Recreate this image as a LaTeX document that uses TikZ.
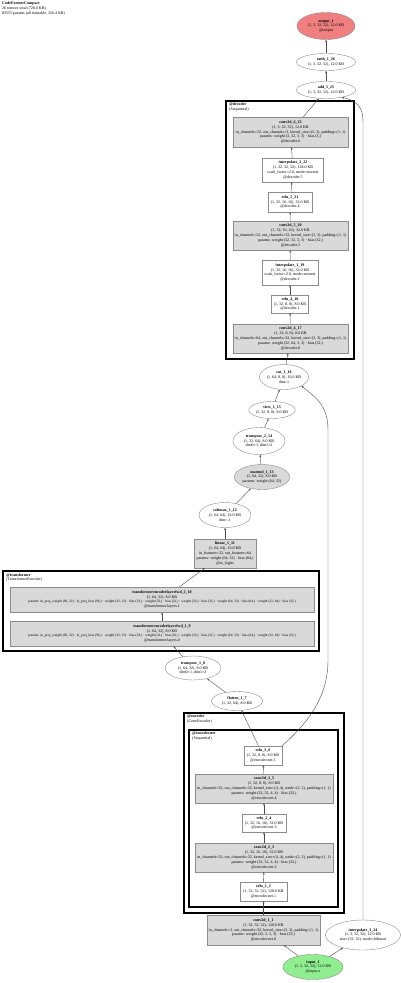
\documentclass[tikz,border=0pt]{standalone}
\usepackage{fontspec}
\setmainfont{Liberation Serif}
\usetikzlibrary{arrows.meta, shapes.geometric}
\definecolor{cmod}{HTML}{D9D9D9}
\definecolor{cline}{HTML}{8C8C8C}
\definecolor{cedge}{HTML}{4D4D4D}
\definecolor{cout}{HTML}{F08080}
\definecolor{cin}{HTML}{90EE90}
\tikzset{
  every picture/.style={x=1pt, y=-1pt},
  small4/.style={font=\fontsize{4}{4.8}\selectfont},
  fn/.style={draw=cline, fill=white, line width=0.4pt, align=center, inner sep=1pt, small4},
  mod/.style={fn, fill=cmod},
  ell/.style={fn, ellipse, inner sep=0.3pt},
  arrow/.style={-{Stealth[length=2.4pt, width=1.9pt]}, draw=cedge, line width=0.4pt},
  cluster/.style={draw=black, line width=1.3pt},
  clabel/.style={small4, align=left, anchor=north west, inner sep=0pt},
}
\newcommand{\plist}{params: in\_proj\_weight (96, 32) · in\_proj\_bias (96,) · weight (32, 32) · bias (32,) · weight (32,) · bias (32,) · weight (32,) · bias (32,) · weight (64, 32) · bias (64,) · weight (32, 64) · bias (32,)}

\begin{document}
\begin{tikzpicture}
  \useasboundingbox[fill=white] (0,0) rectangle (400,983);
  \node[clabel] (hdr) at (2,2) {\textbf{CodeFormerCompact}\\26 tensors total (728.0 KB)\\83555 params (all trainable, 326.4 KB)};

  \draw[cluster] (226,101) rectangle (354,359);
  \node[clabel] (decl) at (229,103) {\textbf{@decoder}\\(Sequential)};
  \draw[cluster] (3,571) rectangle (319,651);
  \node[clabel] (trfl) at (6,573) {\textbf{@transformer}\\(TransformerEncoder)};
  \draw[cluster] (184,713) rectangle (344,913);
  \node[clabel] (encl) at (187,715) {\textbf{@encoder}\\(ConvEncoder)};
  \draw[cluster] (189,730) rectangle (338,907);
  \node[clabel] (netl) at (192,732) {\textbf{@encoder.net}\\(Sequential)};

  \node[ell, fill=cout, minimum width=58pt, minimum height=27pt] (out) at (326,26) {\textbf{output\_1}\\(1, 3, 32, 32), 12.0 KB\\@output};
  \node[ell, minimum width=59pt, minimum height=17pt] (tanh) at (326,62) {\textbf{tanh\_1\_26}\\(1, 3, 32, 32), 12.0 KB};
  \node[ell, minimum width=59pt, minimum height=17pt] (add) at (326,90) {\textbf{add\_1\_25}\\(1, 3, 32, 32), 12.0 KB};

  \node[mod, minimum width=115pt, minimum height=30pt] (conv6) at (290.5,132) {\textbf{conv2d\_6\_23}\\(1, 3, 32, 32), 12.0 KB\\in\_channels=32, out\_channels=3, kernel\_size=(3, 3), padding=(1, 1)\\params: weight (3, 32, 3, 3) · bias (3,)\\@decoder.6};
  \node[fn, minimum width=61pt, minimum height=24pt] (interp2) at (293,170) {\textbf{interpolate\_2\_22}\\(1, 32, 32, 32), 128.0 KB\\scale\_factor=2.0, mode=nearest\\@decoder.5};
  \node[fn, minimum width=44pt, minimum height=20pt] (relu5) at (290,202) {\textbf{relu\_5\_21}\\(1, 32, 16, 16), 32.0 KB\\@decoder.4};
  \node[mod, minimum width=115pt, minimum height=29pt] (conv5) at (290.5,235.5) {\textbf{conv2d\_5\_20}\\(1, 32, 16, 16), 32.0 KB\\in\_channels=32, out\_channels=32, kernel\_size=(3, 3), padding=(1, 1)\\params: weight (32, 32, 3, 3) · bias (32,)\\@decoder.3};
  \node[fn, minimum width=56pt, minimum height=25pt] (interp1) at (290,272.5) {\textbf{interpolate\_1\_19}\\(1, 32, 16, 16), 32.0 KB\\scale\_factor=2.0, mode=nearest\\@decoder.2};
  \node[fn, minimum width=37pt, minimum height=18pt] (relu4) at (290,304) {\textbf{relu\_4\_18}\\(1, 32, 8, 8), 8.0 KB\\@decoder.1};
  \node[mod, minimum width=115pt, minimum height=29pt] (conv4) at (290.5,338.5) {\textbf{conv2d\_4\_17}\\(1, 32, 8, 8), 8.0 KB\\in\_channels=64, out\_channels=32, kernel\_size=(3, 3), padding=(1, 1)\\params: weight (32, 64, 3, 3) · bias (32,)\\@decoder.0};

  \node[ell, minimum width=45pt, minimum height=25pt] (cat) at (284,377) {\textbf{cat\_1\_16}\\(1, 64, 8, 8), 16.0 KB\\dim=1};
  \node[ell, minimum width=45pt, minimum height=17pt] (view) at (272,410) {\textbf{view\_1\_15}\\(1, 32, 8, 8), 8.0 KB};
  \node[ell, minimum width=52pt, minimum height=27pt] (tr2) at (259,441) {\textbf{transpose\_2\_14}\\(1, 32, 64), 8.0 KB\\dim0=1, dim1=2};
  \node[ell, fill=cmod, minimum width=52pt, minimum height=25pt] (matmul) at (262,477) {\textbf{matmul\_1\_13}\\(1, 64, 32), 8.0 KB\\params: weight (64, 32)};
  \node[ell, minimum width=52pt, minimum height=25pt] (softmax) at (225,515) {\textbf{softmax\_1\_12}\\(1, 64, 64), 16.0 KB\\dim=-1};
  \node[mod, minimum width=62pt, minimum height=29pt] (linear) at (225,553.5) {\textbf{linear\_1\_11}\\(1, 64, 64), 16.0 KB\\in\_features=32, out\_features=64\\params: weight (64, 32) · bias (64,)\\@to\_logits};

  \node[mod, minimum width=304pt, minimum height=25pt] (tl2) at (162,599.5) {\textbf{transformerencoderlayerfwd\_2\_10}\\(1, 64, 32), 8.0 KB\\{\fontsize{3.5}{4.8}\selectfont\plist}\\@transformer.layers.1};
  \node[mod, minimum width=304pt, minimum height=25pt] (tl1) at (162,633.5) {\textbf{transformerencoderlayerfwd\_1\_9}\\(1, 64, 32), 8.0 KB\\{\fontsize{3.5}{4.8}\selectfont\plist}\\@transformer.layers.0};
  \node[ell, minimum width=56pt, minimum height=24pt] (tr1) at (193,668) {\textbf{transpose\_1\_8}\\(1, 64, 32), 8.0 KB\\dim0=1, dim1=2};
  \node[ell, minimum width=51pt, minimum height=19pt] (flatten) at (237,701) {\textbf{flatten\_1\_7}\\(1, 32, 64), 8.0 KB};

  \node[fn, minimum width=38pt, minimum height=19pt] (relu3) at (263,755.5) {\textbf{relu\_3\_6}\\(1, 32, 8, 8), 8.0 KB\\@encoder.net.5};
  \node[mod, minimum width=138pt, minimum height=29pt] (conv3) at (264,788.5) {\textbf{conv2d\_3\_5}\\(1, 32, 8, 8), 8.0 KB\\in\_channels=32, out\_channels=32, kernel\_size=(4, 4), stride=(2, 2), padding=(1, 1)\\params: weight (32, 32, 4, 4) · bias (32,)\\@encoder.net.4};
  \node[fn, minimum width=44pt, minimum height=18pt] (relu2) at (264,823) {\textbf{relu\_2\_4}\\(1, 32, 16, 16), 32.0 KB\\@encoder.net.3};
  \node[mod, minimum width=138pt, minimum height=29pt] (conv2) at (264,857.5) {\textbf{conv2d\_2\_3}\\(1, 32, 16, 16), 32.0 KB\\in\_channels=32, out\_channels=32, kernel\_size=(4, 4), stride=(2, 2), padding=(1, 1)\\params: weight (32, 32, 4, 4) · bias (32,)\\@encoder.net.2};
  \node[fn, minimum width=47pt, minimum height=19pt] (relu1) at (263.5,891.5) {\textbf{relu\_1\_2}\\(1, 32, 32, 32), 128.0 KB\\@encoder.net.1};
  \node[mod, minimum width=113pt, minimum height=30pt] (conv1) at (263.5,930) {\textbf{conv2d\_1\_1}\\(1, 32, 32, 32), 128.0 KB\\in\_channels=3, out\_channels=32, kernel\_size=(3, 3), padding=(1, 1)\\params: weight (32, 3, 3, 3) · bias (32,)\\@encoder.net.0};
  \node[ell, minimum width=75pt, minimum height=30pt] (interp3) at (363,935) {\textbf{interpolate\_3\_24}\\(1, 3, 32, 32), 12.0 KB\\size=(32, 32), mode=bilinear};
  \node[ell, fill=cin, minimum width=60pt, minimum height=25pt] (in1) at (313,967) {\textbf{input\_1}\\(1, 3, 32, 32), 12.0 KB\\@input.x};

  \coordinate (skip1) at (328,660);
  \coordinate (skip2) at (328,430);
  \coordinate (skip3) at (363,122);

  \draw[arrow] (in1) -- (conv1); \draw[arrow] (in1) -- (interp3);
  \draw[arrow] (conv1) -- (relu1); \draw[arrow] (relu1) -- (conv2);
  \draw[arrow] (conv2) -- (relu2); \draw[arrow] (relu2) -- (conv3);
  \draw[arrow] (conv3) -- (relu3); \draw[arrow] (relu3) -- (flatten);
  \draw[arrow] (flatten) -- (tr1); \draw[arrow] (tr1) -- (tl1);
  \draw[arrow] (tl1) -- (tl2); \draw[arrow] (tl2) -- (linear);
  \draw[arrow] (linear) -- (softmax); \draw[arrow] (softmax) -- (matmul);
  \draw[arrow] (matmul) -- (tr2); \draw[arrow] (tr2) -- (view);
  \draw[arrow] (view) -- (cat); \draw[arrow] (cat) -- (conv4);
  \draw[arrow] (conv4) -- (relu4); \draw[arrow] (relu4) -- (interp1);
  \draw[arrow] (interp1) -- (conv5); \draw[arrow] (conv5) -- (relu5);
  \draw[arrow] (relu5) -- (interp2); \draw[arrow] (interp2) -- (conv6);
  \draw[arrow] (conv6) -- (add); \draw[arrow] (add) -- (tanh);
  \draw[arrow] (tanh) -- (out);
  \draw[arrow] (relu3.north east) .. controls (305,725) and (328,700) .. (skip1) -- (skip2) .. controls (328,405) and (315,397) .. (cat.south east);
  \draw[arrow] (interp3.north) -- (skip3) .. controls (363,108) and (358,101) .. (add.-25);
\end{tikzpicture}
\end{document}
